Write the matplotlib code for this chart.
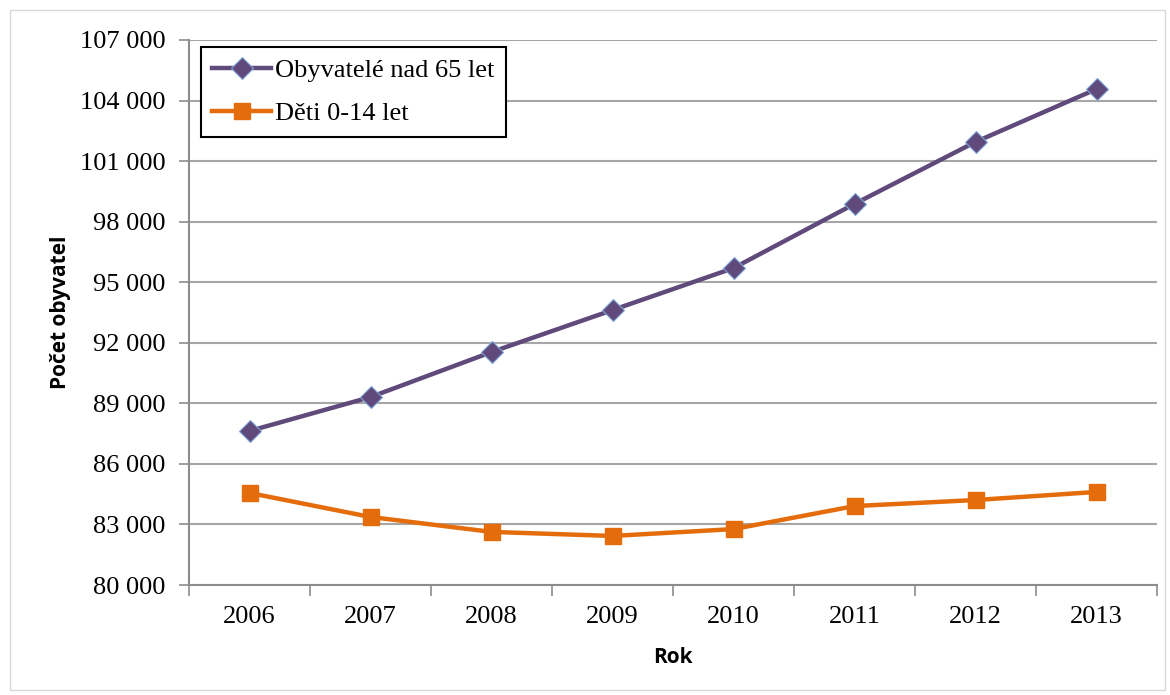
import matplotlib
matplotlib.use("Agg")
import matplotlib.pyplot as plt
from matplotlib.ticker import FixedLocator, FuncFormatter
from matplotlib.patches import Rectangle

years = ["2006", "2007", "2008", "2009", "2010", "2011", "2012", "2013"]
seniors = [87630, 89310, 91540, 93620, 95700, 98880, 101950, 104570]
children = [84560, 83370, 82630, 82430, 82770, 83910, 84210, 84610]
yticks = [80000, 83000, 86000, 89000, 92000, 95000, 98000, 101000, 104000, 107000]

fig = plt.figure(figsize=(11.7, 6.95), dpi=100)
fig.patch.set_facecolor("white")
fig.patches.append(Rectangle((10/1170, 5/695), 1155/1170, 680/695, transform=fig.transFigure,
                             fill=False, edgecolor="#d9d9d9", linewidth=1.0))
ax = fig.add_axes([189/1170, 1 - 585/695, (1157-189)/1170, (585-40)/695])

x = list(range(len(years)))
ax.plot(x, seniors, color="#604A7B", linewidth=3.2, marker="D", markersize=11,
        markerfacecolor="#604A7B", markeredgecolor="#7EA6D8", markeredgewidth=0.8,
        label="Obyvatelé nad 65 let", zorder=3)
ax.plot(x, children, color="#E46C0A", linewidth=3.2, marker="s", markersize=12,
        markerfacecolor="#E46C0A", markeredgecolor="#E46C0A",
        label="Děti 0-14 let", zorder=3)

ax.set_xlim(-0.5, len(years) - 0.5)
ax.set_ylim(yticks[0], yticks[-1])
ax.set_yticks(yticks)
ax.yaxis.set_major_formatter(FuncFormatter(lambda v, p: f"{int(v):,}".replace(",", " ")))
ax.grid(axis="y", color="#a6a6a6", linewidth=1.5, zorder=0)
ax.set_axisbelow(True)

ax.xaxis.set_major_locator(FixedLocator([i - 0.5 for i in range(len(years) + 1)]))
ax.xaxis.set_major_formatter(FuncFormatter(lambda v, p: ""))
ax.xaxis.set_minor_locator(FixedLocator(x))
ax.set_xticklabels(years, minor=True)
ax.tick_params(axis="x", which="major", length=8, width=1.2, color="#8c8c8c", direction="out")
ax.tick_params(axis="x", which="minor", length=0, pad=15)
ax.tick_params(axis="y", length=7, width=1.2, color="#8c8c8c", direction="out", pad=10)

for lbl in ax.get_xticklabels(minor=True) + ax.get_yticklabels():
    lbl.set_fontfamily("Liberation Serif")
    lbl.set_fontsize(19)
    lbl.set_color("black")

for side in ["top", "right"]:
    ax.spines[side].set_visible(False)
for side in ["left", "bottom"]:
    ax.spines[side].set_color("#8c8c8c")
    ax.spines[side].set_linewidth(1.5)

ax.set_xlabel("Rok", fontfamily="Open Sans", fontweight="bold", fontsize=15, labelpad=14)
ax.set_ylabel("Počet obyvatel", fontfamily="Open Sans", fontweight="bold", fontsize=15, labelpad=6)

leg = ax.legend(loc="upper left", bbox_to_anchor=(0.012, 0.988), frameon=True, fancybox=False,
                edgecolor="black", prop={"family": "Liberation Serif", "size": 19},
                handlelength=2.2, borderpad=0.45, labelspacing=0.75, handletextpad=0.15,
                borderaxespad=0.0)
leg.get_frame().set_linewidth(1.5)
leg.get_frame().set_alpha(1)

fig.savefig("out.png", dpi=100, facecolor="white")
